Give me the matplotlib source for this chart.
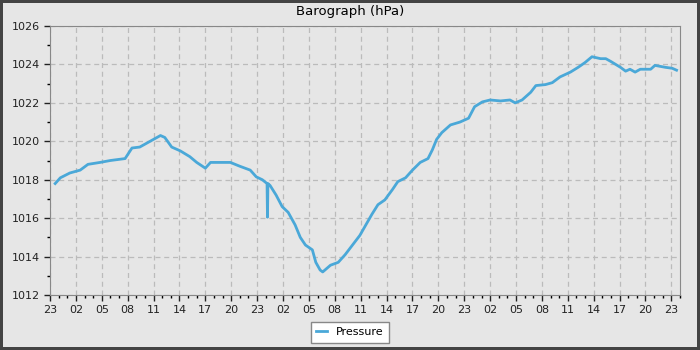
import matplotlib.pyplot as plt
from matplotlib.ticker import MultipleLocator, FuncFormatter

# hours since 23:00 on day one, pressure in hPa
hours = [0.6, 1.2, 2.3, 3.5, 4.4, 5.8, 7.0, 8.7, 9.5, 10.4, 11.6, 12.8, 13.3,
         14.1, 15.1, 16.2, 17.0, 18.0, 18.6, 19.7, 20.9, 22.0, 23.2, 23.9,
         24.6, 25.15, 25.2, 25.25, 25.5, 26.2, 26.9, 27.6, 28.4, 29.0, 29.6,
         30.4, 30.8, 31.3, 31.6, 32.5, 33.4, 34.2, 35.9, 37.3, 38.0, 38.8,
         39.7, 40.3, 41.2, 42.0, 42.9, 43.8, 44.3, 44.8, 45.4, 46.4, 47.5,
         48.5, 49.2, 50.1, 51.0, 52.2, 53.3, 53.9, 54.7, 55.7, 56.3, 57.4,
         58.2, 59.1, 60.3, 61.2, 62.0, 62.8, 63.8, 64.4, 65.0, 66.1, 66.7,
         67.2, 67.8, 68.4, 69.6, 70.1, 70.7, 71.3, 72.1, 72.6]
pressure = [1017.8, 1018.1, 1018.35, 1018.5, 1018.8, 1018.9, 1019.0, 1019.1,
            1019.65, 1019.7, 1020.0, 1020.3, 1020.2, 1019.7, 1019.5, 1019.2,
            1018.9, 1018.6, 1018.9, 1018.9, 1018.9, 1018.7, 1018.5, 1018.15,
            1018.0, 1017.8, 1016.05, 1017.8, 1017.7, 1017.2, 1016.6, 1016.3,
            1015.65, 1015.0, 1014.6, 1014.35, 1013.7, 1013.3, 1013.2, 1013.55,
            1013.7, 1014.1, 1015.1, 1016.2, 1016.7, 1016.95, 1017.5, 1017.9,
            1018.1, 1018.5, 1018.9, 1019.1, 1019.55, 1020.1, 1020.45, 1020.85,
            1021.0, 1021.2, 1021.8, 1022.05, 1022.15, 1022.1, 1022.15, 1022.0,
            1022.15, 1022.55, 1022.9, 1022.95, 1023.05, 1023.35, 1023.6,
            1023.85, 1024.1, 1024.4, 1024.3, 1024.3, 1024.15, 1023.85, 1023.65,
            1023.75, 1023.6, 1023.75, 1023.75, 1023.95, 1023.9, 1023.85,
            1023.8, 1023.7]
start_hour = 23

bg = "#e6e6e6"
fig = plt.figure(figsize=(7, 3.5), dpi=100, facecolor=bg,
                 edgecolor="#444444", linewidth=3)
ax = fig.add_axes([50 / 700, 55 / 350, 630 / 700, 269 / 350])
ax.set_facecolor(bg)

ax.plot(hours, pressure, color="#4aa8d8", lw=2, label="Pressure")

ax.set_xlim(0, 73)
ax.set_ylim(1012, 1026)
ax.xaxis.set_major_locator(MultipleLocator(3))
ax.xaxis.set_minor_locator(MultipleLocator(1))
ax.yaxis.set_major_locator(MultipleLocator(2))
ax.yaxis.set_minor_locator(MultipleLocator(1))
ax.xaxis.set_major_formatter(
    FuncFormatter(lambda v, p: "%02d" % ((int(round(v)) + start_hour) % 24)))
ax.tick_params(labelsize=8, colors="#222222", length=4, width=1)
ax.tick_params(which="minor", length=2.5, width=1)
ax.grid(True, which="major", ls=(0, (4, 3)), color="#bbbbbb", lw=0.9)

for s in ax.spines.values():
    s.set_color("#888888")

fig.suptitle("Barograph (hPa)", fontsize=9.5, x=0.5, y=1 - 11 / 350,
             va="center")

fig.legend(loc="lower center", bbox_to_anchor=(0.5, 0.005), fontsize=8,
           fancybox=False, framealpha=1, edgecolor="#888888",
           handlelength=1, borderpad=0.5)

fig.savefig("out.png", facecolor=bg, edgecolor="#444444")
